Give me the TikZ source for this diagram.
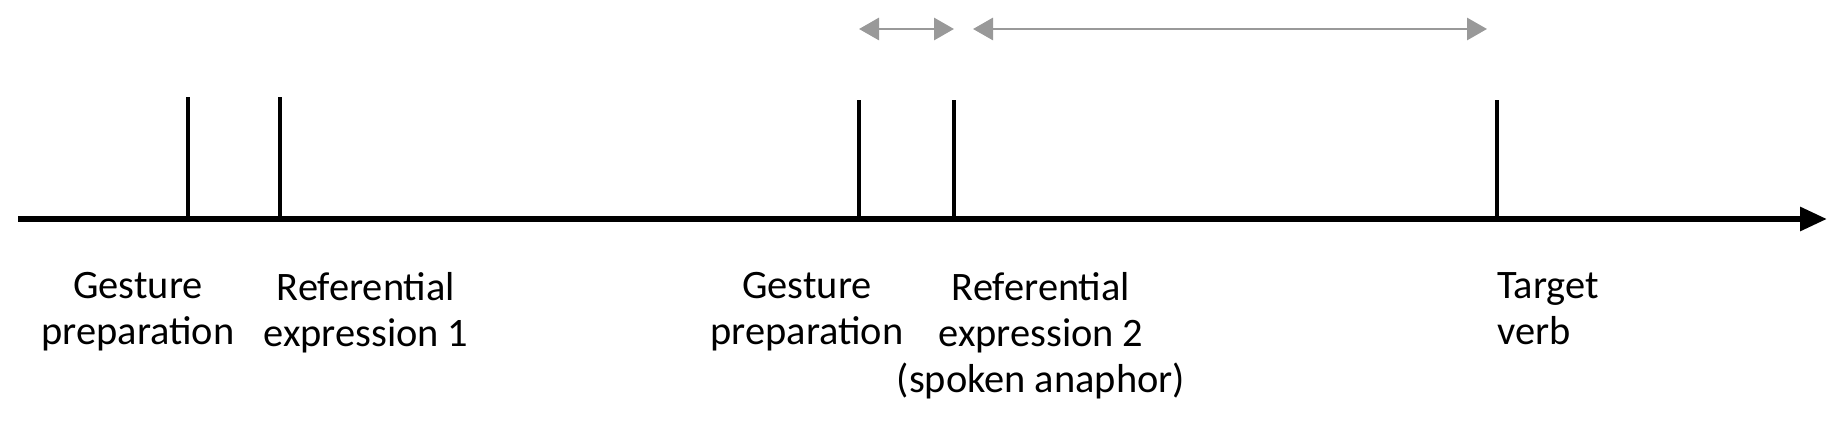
\documentclass[tikz,border=0pt]{standalone}
\usepackage{fontspec}
\setmainfont{Carlito}
\usetikzlibrary{arrows.meta}
\begin{document}
\begin{tikzpicture}[
    axisline/.style={line width=3.4pt, -{Triangle[length=0.54cm,width=0.46cm]}},
    ticker/.style={line width=2.2pt},
    span/.style={draw=black!40, line width=1.7pt,
      {Triangle[length=0.4cm,width=0.44cm]}-{Triangle[length=0.4cm,width=0.44cm]}},
    eventtext/.style={anchor=north, inner sep=0pt, align=center,
      font=\fontsize{23}{26.3}\selectfont}
  ]
  \useasboundingbox (0,-4.14) rectangle (36.84,4.38);

  % Time axis
  \coordinate (start) at (0.36,0);
  \coordinate (end) at (36.54,0);
  \draw[axisline] (start) -- (end);

  % Events on the axis
  \coordinate (gp1) at (3.76,0);
  \coordinate (re1) at (5.60,0);
  \coordinate (gp2) at (17.18,0);
  \coordinate (re2) at (19.08,0);
  \coordinate (tv) at (29.94,0);
  \foreach \ev/\h in {gp1/2.44, re1/2.44, gp2/2.38, re2/2.38, tv/2.38}
    \draw[ticker] (\ev) -- ++(0,\h);

  % Grey spans above the ticks
  \coordinate (sky) at (0,3.8);
  \draw[span] (gp2 |- sky) -- (re2 |- sky);
  \draw[span] ([xshift=0.38cm]re2 |- sky) -- ([xshift=-0.2cm]tv |- sky);

  % Labels under the axis
  \node[eventtext] (gp1text) at (2.76,-1.06) {Gesture\\preparation};
  \node[eventtext] (re1text) at (7.32,-1.06) {Referential\\expression 1};
  \node[eventtext] (gp2text) at (16.14,-1.06) {Gesture\\preparation};
  \node[eventtext] (re2text) at (20.82,-1.06) {Referential\\expression 2\\(spoken anaphor)};
  \node[eventtext, anchor=north west, align=left] (tvtext) at (29.94,-1.06) {Target\\verb};
\end{tikzpicture}
\end{document}
